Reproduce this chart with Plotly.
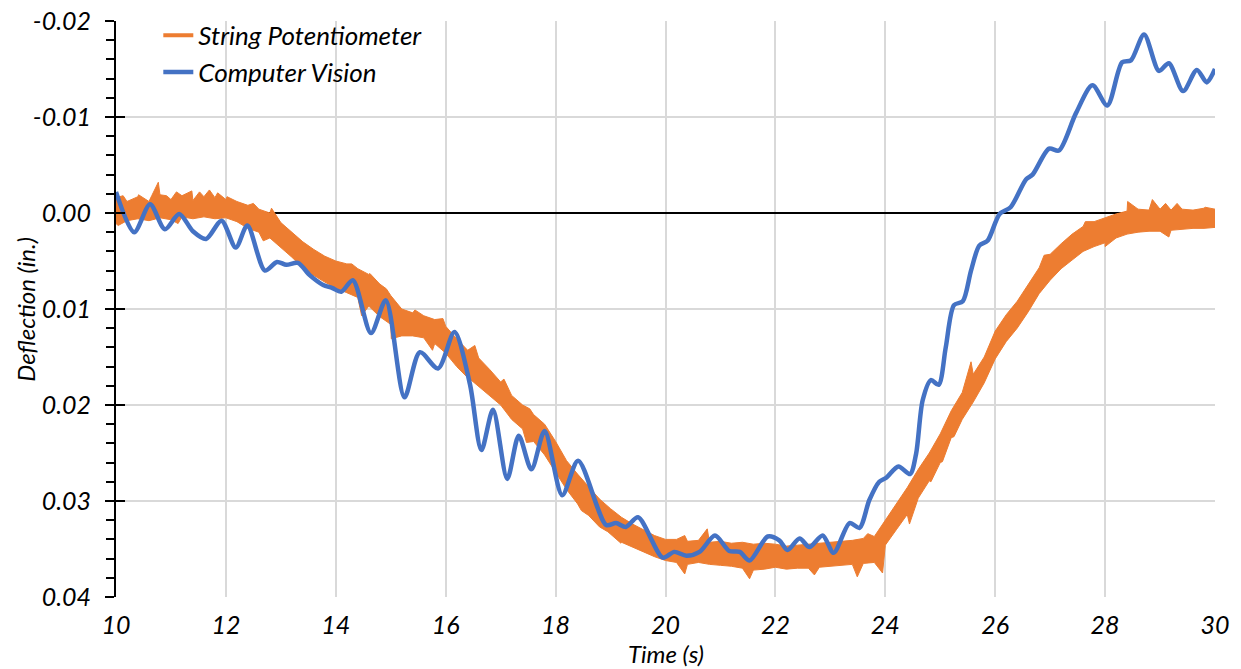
import numpy as np
import plotly.graph_objects as go

# ---- String potentiometer: band edges sampled every 0.2 s (10 s .. 30 s) ----
SP_TIME = np.round(np.arange(10.0, 30.0001, 0.2), 1)
SP_TOP = [
    -0.0016, -0.0012, -0.0017, -0.0012, -0.0019, -0.0014, -0.0018, -0.0013, -0.0017, -0.0016,
    -0.0014, -0.0012, -0.0008, -0.0004, 0.0000, 0.0010, 0.0020, 0.0030, 0.0038, 0.0045,
    0.0050, 0.0053, 0.0058, 0.0064, 0.0074, 0.0086, 0.0100, 0.0104, 0.0107, 0.0111,
    0.0118, 0.0131, 0.0143, 0.0151, 0.0163, 0.0176, 0.0190, 0.0200, 0.0210, 0.0220,
    0.0238, 0.0258, 0.0272, 0.0285, 0.0298, 0.0308, 0.0317, 0.0324, 0.0330, 0.0336,
    0.0340, 0.0340, 0.0342, 0.0341, 0.0343, 0.0342, 0.0344, 0.0343, 0.0345, 0.0344,
    0.0345, 0.0347, 0.0346, 0.0345, 0.0344, 0.0343, 0.0342, 0.0341, 0.0339, 0.0337,
    0.0320, 0.0302, 0.0286, 0.0267, 0.0250, 0.0230, 0.0206, 0.0187, 0.0168, 0.0150,
    0.0123, 0.0106, 0.0092, 0.0075, 0.0057, 0.0043, 0.0032, 0.0022, 0.0014, 0.0009,
    0.0005, 0.0001, -0.0002, -0.0004, -0.0003, -0.0004, -0.0003, -0.0004, -0.0003, -0.0005,
    -0.0004,
]
SP_BOTTOM = [
    0.0011, 0.0008, 0.0006, 0.0008, 0.0005, 0.0007, 0.0004, 0.0006, 0.0004, 0.0006,
    0.0005, 0.0009, 0.0016, 0.0020, 0.0026, 0.0036, 0.0046, 0.0057, 0.0065, 0.0072,
    0.0078, 0.0083, 0.0088, 0.0097, 0.0108, 0.0116, 0.0128, 0.0128, 0.0130, 0.0136,
    0.0146, 0.0160, 0.0171, 0.0180, 0.0190, 0.0200, 0.0215, 0.0225, 0.0238, 0.0252,
    0.0270, 0.0288, 0.0303, 0.0315, 0.0327, 0.0335, 0.0343, 0.0348, 0.0353, 0.0358,
    0.0362, 0.0364, 0.0366, 0.0364, 0.0366, 0.0367, 0.0368, 0.0370, 0.0372, 0.0371,
    0.0369, 0.0371, 0.0370, 0.0370, 0.0369, 0.0368, 0.0367, 0.0366, 0.0365, 0.0364,
    0.0346, 0.0330, 0.0314, 0.0297, 0.0279, 0.0260, 0.0234, 0.0215, 0.0197, 0.0177,
    0.0152, 0.0134, 0.0120, 0.0103, 0.0084, 0.0070, 0.0058, 0.0049, 0.0040, 0.0035,
    0.0031, 0.0026, 0.0022, 0.0020, 0.0019, 0.0019, 0.0018, 0.0017, 0.0016, 0.0016,
    0.0015,
]
# isolated noise spikes on each edge of the band
SPIKE_UP_T = [
    10.13, 10.41, 10.65, 10.77, 10.92, 11.10, 11.38, 11.52, 11.70, 11.85,
    12.02, 12.50, 12.83, 14.29, 14.62, 14.92, 15.44, 15.95, 16.53, 17.06,
    17.53, 20.35, 20.76, 23.68, 25.56, 26.89, 27.64, 28.41, 28.86, 29.10,
    29.31, 29.82,
]
SPIKE_UP_D = [
    -0.0018, -0.0019, -0.0018, -0.0032, -0.0018, -0.0022, -0.0023, -0.0022, -0.0024, -0.0021,
    -0.0017, -0.0010, -0.0005, 0.0053, 0.0063, 0.0079, 0.0101, 0.0110, 0.0138, 0.0173,
    0.0204, 0.0336, 0.0329, 0.0334, 0.0155, 0.0044, 0.0009, -0.0012, -0.0014, -0.0010,
    -0.0010, -0.0006,
]
SPIKE_DN_T = [
    10.04, 11.13, 12.68, 13.04, 13.53, 14.47, 15.01, 15.76, 16.39, 17.47,
    18.47, 18.95, 19.19, 20.35, 21.53, 22.71, 23.49, 23.95, 24.44, 24.83,
    25.04, 25.25, 28.00, 29.16,
]
SPIKE_DN_D = [
    0.0013, 0.0011, 0.0029, 0.0038, 0.0067, 0.0107, 0.0131, 0.0143, 0.0171, 0.0239,
    0.0310, 0.0332, 0.0344, 0.0376, 0.0381, 0.0377, 0.0379, 0.0375, 0.0324, 0.0280,
    0.0259, 0.0233, 0.0035, 0.0025,
]

# ---- Computer vision trace ----
CV_TIME = [
    10.00, 10.33, 10.62, 10.89, 11.15, 11.40, 11.64, 11.92, 12.18, 12.39,
    12.71, 12.93, 13.10, 13.31, 13.53, 13.77, 13.93, 14.10, 14.31, 14.64,
    14.91, 15.25, 15.53, 15.86, 16.16, 16.44, 16.65, 16.86, 17.12, 17.33,
    17.56, 17.80, 18.12, 18.41, 18.92, 19.10, 19.28, 19.50, 19.95, 20.16,
    20.38, 20.62, 20.90, 21.16, 21.35, 21.53, 21.86, 22.07, 22.22, 22.44,
    22.62, 22.86, 23.06, 23.35, 23.53, 23.71, 23.89, 24.01, 24.24, 24.45,
    24.56, 24.68, 24.83, 24.97, 25.10, 25.25, 25.41, 25.56, 25.71, 25.86,
    26.08, 26.28, 26.56, 26.68, 26.98, 27.16, 27.47, 27.77, 28.04, 28.31,
    28.47, 28.71, 28.98, 29.16, 29.42, 29.67, 29.85, 30.00,
]
CV_DEFL = [
    -0.0022, 0.0020, -0.0009, 0.0017, 0.0001, 0.0019, 0.0027, 0.0008, 0.0036, 0.0013,
    0.0060, 0.0051, 0.0054, 0.0052, 0.0065, 0.0075, 0.0078, 0.0082, 0.0070, 0.0125,
    0.0091, 0.0192, 0.0145, 0.0162, 0.0124, 0.0178, 0.0247, 0.0205, 0.0277, 0.0232,
    0.0267, 0.0227, 0.0294, 0.0258, 0.0325, 0.0323, 0.0327, 0.0317, 0.0359, 0.0353,
    0.0357, 0.0353, 0.0336, 0.0352, 0.0353, 0.0362, 0.0337, 0.0341, 0.0351, 0.0339,
    0.0348, 0.0336, 0.0354, 0.0323, 0.0328, 0.0299, 0.0280, 0.0276, 0.0264, 0.0272,
    0.0251, 0.0195, 0.0174, 0.0179, 0.0140, 0.0096, 0.0092, 0.0060, 0.0034, 0.0029,
    0.0001, -0.0006, -0.0035, -0.0040, -0.0067, -0.0065, -0.0104, -0.0133, -0.0112, -0.0157,
    -0.0159, -0.0186, -0.0148, -0.0156, -0.0127, -0.0149, -0.0136, -0.0150,
]

# axis ticks
X_TICKS = [10, 12, 14, 16, 18, 20, 22, 24, 26, 28, 30]
Y_TICKS = [-0.02, -0.01, 0.0, 0.01, 0.02, 0.03, 0.04]
Y_TICK_TEXT = ["-0.02", "-0.01", "0.00", "0.01", "0.02", "0.03", "0.04"]

ORANGE = "#ED7D31"
BLUE = "#4472C4"
GRID = "#D9D9D9"
TICK_FONT = dict(family="Lato", size=25, color="black", style="italic")
TEXT_FONT = dict(family="Lato", size=24, color="black", style="italic")
LEGEND_FONT = dict(family="Lato", size=26, color="black", style="italic")


def merge(t, d, st, sd):
    pts = sorted(list(zip(list(t), list(d))) + list(zip(st, sd)))
    return [p[0] for p in pts], [p[1] for p in pts]


top_t, top_d = merge(SP_TIME, SP_TOP, SPIKE_UP_T, SPIKE_UP_D)
bot_t, bot_d = merge(SP_TIME, SP_BOTTOM, SPIKE_DN_T, SPIKE_DN_D)

fig = go.Figure()
# noisy potentiometer record drawn as a closed band:
# upper edge left->right, lower edge right->left
fig.add_trace(go.Scatter(
    x=top_t + bot_t[::-1], y=top_d + bot_d[::-1], mode="lines",
    fill="toself", fillcolor=ORANGE, line=dict(color=ORANGE, width=1),
    name="String Potentiometer", showlegend=False, hoverinfo="skip",
))
# legend key for the band
fig.add_trace(go.Scatter(
    x=[None], y=[None], mode="lines", name="String Potentiometer",
    line=dict(color=ORANGE, width=4),
))
fig.add_trace(go.Scatter(
    x=CV_TIME, y=CV_DEFL, mode="lines", name="Computer Vision",
    line=dict(color=BLUE, width=4.5, shape="spline", smoothing=0.8),
))
# empty companion trace so the overlay axis carries the inner half of the major ticks
fig.add_trace(go.Scatter(x=[None], y=[None], yaxis="y2", showlegend=False))

fig.update_layout(
    width=1241, height=669,
    margin=dict(l=116, r=26, t=21, b=72, autoexpand=False),
    paper_bgcolor="white", plot_bgcolor="white",
    font=TEXT_FONT,
    showlegend=True,
    legend=dict(
        x=0.0385, y=1.016, xanchor="left", yanchor="top", traceorder="normal",
        bgcolor="rgba(0,0,0,0)", font=LEGEND_FONT, tracegroupgap=0,
    ),
    xaxis=dict(
        range=[10, 30], tickvals=X_TICKS, ticks="", automargin=False,
        showgrid=True, gridcolor=GRID, gridwidth=2,
        zeroline=False, showline=False,
        tickfont=TICK_FONT, ticklabelstandoff=11,
    ),
    yaxis=dict(
        range=[0.04, -0.02], tickvals=Y_TICKS, ticktext=Y_TICK_TEXT, automargin=False,
        ticks="outside", ticklen=9, tickwidth=2, tickcolor="black",
        minor=dict(dtick=0.002, ticks="outside", ticklen=8, tickwidth=2,
                   tickcolor="black", showgrid=False),
        showgrid=True, gridcolor=GRID, gridwidth=2,
        zeroline=True, zerolinecolor="black", zerolinewidth=2,
        showline=True, linecolor="black", linewidth=2,
        tickfont=TICK_FONT, ticklabelstandoff=9,
    ),
    yaxis2=dict(
        overlaying="y", side="left", range=[0.04, -0.02], tickvals=Y_TICKS,
        automargin=False, showticklabels=False, ticks="inside", ticklen=9, tickwidth=2,
        tickcolor="black", showgrid=False, zeroline=False, showline=False,
    ),
    annotations=[
        dict(text="Time (s)", xref="paper", yref="paper", x=0.5, y=-0.0985,
             xanchor="center", yanchor="middle", showarrow=False, font=TEXT_FONT),
        dict(text="Deflection (in.)", xref="paper", yref="paper", x=-0.083, y=0.5,
             xanchor="center", yanchor="middle", textangle=-90, showarrow=False,
             font=TEXT_FONT),
    ],
)

fig.write_html("out.html")
